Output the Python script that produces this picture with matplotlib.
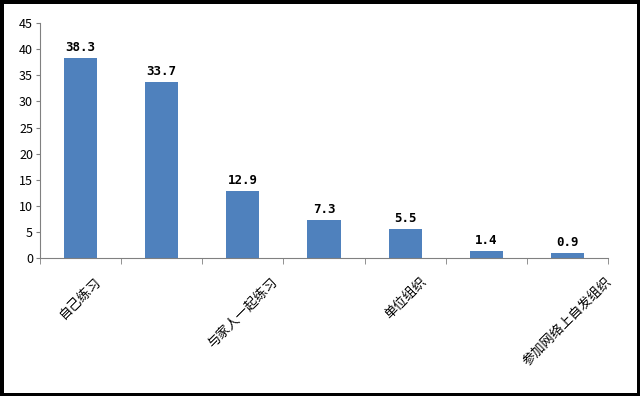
import matplotlib
matplotlib.use("Agg")
import matplotlib.pyplot as plt
import numpy as np

plt.rcParams['font.family'] = ['Noto Sans CJK SC', 'DejaVu Sans']

# only every other category name is visible in the chart
categories = ["自己练习", "", "与家人一起练习", "", "单位组织", "", "参加网络上自发组织"]
values = [38.3, 33.7, 12.9, 7.3, 5.5, 1.4, 0.9]
yticks = [0, 5, 10, 15, 20, 25, 30, 35, 40, 45]

fig = plt.figure(figsize=(6.4, 3.96), dpi=100, edgecolor="black", linewidth=5)
ax = fig.add_axes([0.0625, 0.348, 0.8875, 0.594])

x = np.arange(len(values))
bars = ax.bar(x, values, width=0.41, color="#4f81bd")
for xi, v in zip(x, values):
    ax.text(xi, v + 0.8, f"{v:.1f}", ha="center", va="bottom",
            fontsize=9, fontweight="bold", family="DejaVu Sans Mono")

ax.set_xlim(-0.5, len(values) - 0.5)
ax.set_ylim(0, 45)
ax.set_yticks(yticks)
ax.tick_params(axis="y", length=3, color="#808080", labelsize=9, pad=2)

ax.set_xticks(x)
ax.set_xticklabels(categories, rotation=45, ha="center", va="top", fontsize=9.5)
ax.tick_params(axis="x", which="major", length=0, pad=12)
ax.set_xticks(np.arange(len(values) + 1) - 0.5, minor=True)
ax.tick_params(axis="x", which="minor", length=4, color="#808080")

for s in ["top", "right"]:
    ax.spines[s].set_visible(False)
for s in ["left", "bottom"]:
    ax.spines[s].set_color("#808080")

fig.savefig("out.png", dpi=100)
